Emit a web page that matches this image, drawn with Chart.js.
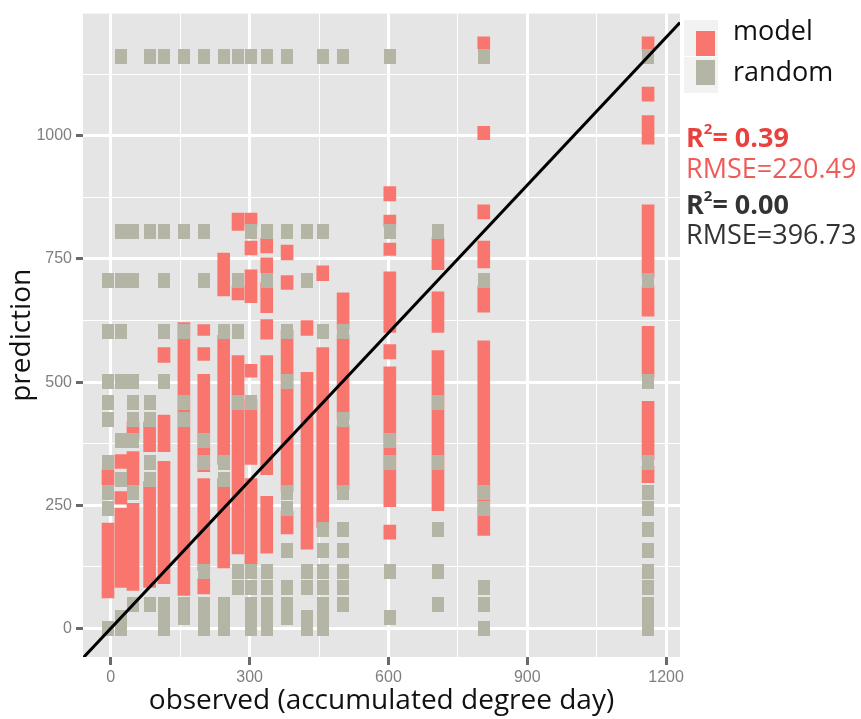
<!DOCTYPE html>
<html>
<head>
<meta charset="utf-8">
<script src="https://cdn.jsdelivr.net/npm/chart.js@4/dist/chart.umd.min.js"></script>
<style>
body { margin: 0; background: #fff; font-family: 'Open Sans', sans-serif; }
#wrap { position: relative; width: 861px; height: 719px; }
#chart { position: absolute; left: 0; top: 0; }
.key { position: absolute; left: 684px; width: 34px; height: 36px; background: #f2f2f2; }
.swatch { position: absolute; left: 12px; top: 11px; width: 19px; height: 25px; }
.lab { position: absolute; left: 733px; font-size: 27px; line-height: 27px; color: #111; }
.stat { position: absolute; left: 686px; font-size: 27px; line-height: 27px; white-space: nowrap; }
.stat sup { font-size: 15px; position: relative; top: -3px; }
</style>
</head>
<body>
<div id="wrap">
  <canvas id="chart" width="861" height="719"></canvas>
  <div class="key" style="top:20px"><div class="swatch" style="background:#F8766D"></div></div>
  <div class="key" style="top:57px"><div class="swatch" style="top:3px;background:#B5B5A6"></div></div>
  <div class="lab" style="top:16px">model</div>
  <div class="lab" style="top:57px">random</div>
  <div class="stat" style="top:118px;color:#E8423F;font-weight:bold">R<sup>2</sup>= 0.39</div>
  <div class="stat" style="top:154px;color:#F05A57">RMSE=220.49</div>
  <div class="stat" style="top:185px;color:#333;font-weight:bold">R<sup>2</sup>= 0.00</div>
  <div class="stat" style="top:220px;color:#333">RMSE=396.73</div>
</div>
<script>
// observed values (one column of points each)
const columnX = [-6, 22, 48, 84, 115, 158, 201, 244, 275, 303, 337, 381, 424, 458, 502, 603, 707, 806, 1161]

// model predictions: dense runs of points per column, read as [low, high]
const modelRanges = [
	[[62, 214], [292, 322]],
	[[83, 244], [252, 278], [325, 353]],
	[[77, 254], [292, 359], [385, 419]],
	[[83, 298], [359, 419]],
	[[91, 339], [359, 433], [540, 570]],
	[[67, 621]],
	[[70, 101], [117, 304], [318, 516], [544, 570], [595, 617]],
	[[123, 304], [333, 595], [675, 762]],
	[[151, 554], [667, 695], [808, 843]],
	[[131, 304], [333, 464], [510, 536], [661, 728], [758, 786], [817, 843]],
	[[153, 268], [312, 554], [587, 627], [641, 702], [722, 752], [762, 792]],
	[[192, 238], [278, 605], [688, 716], [748, 778]],
	[[161, 520], [595, 625]],
	[[204, 570], [706, 736]],
	[[282, 413], [425, 595], [607, 681]],
	[[181, 210], [247, 531], [547, 576], [601, 724], [757, 782], [815, 839], [868, 897]],
	[[239, 564], [601, 683], [728, 794]],
	[[189, 584], [642, 695], [732, 786], [831, 860], [992, 1019], [1177, 1201]],
	[[296, 329], [342, 461], [510, 613], [634, 695], [712, 860], [983, 1041], [1070, 1099], [1173, 1201]],
]

// random predictions per column
const randomValues = [
	[0, 244, 275, 337, 424, 458, 502, 603, 707],
	[0, 22, 303, 381, 502, 603, 707, 806, 1161],
	[48, 275, 381, 424, 458, 502, 707, 806],
	[48, 303, 337, 424, 458, 806, 1161],
	[0, 22, 48, 502, 603, 707, 806, 1161],
	[22, 48, 424, 458, 603, 806, 1161],
	[0, 22, 48, 115, 337, 381, 707, 806, 1161],
	[0, 22, 48, 303, 337, 603, 1161],
	[84, 115, 458, 603, 707, 1161],
	[0, 22, 48, 84, 115, 458, 806, 1161],
	[0, 22, 48, 84, 115, 707, 806, 1161],
	[22, 48, 84, 158, 244, 275, 502, 603, 806, 1161],
	[0, 22, 84, 115, 707, 806],
	[0, 22, 48, 84, 115, 158, 201, 603, 806, 1161],
	[48, 84, 115, 158, 201, 275, 424, 603, 1161],
	[22, 115, 337, 381, 806, 1161],
	[48, 115, 201, 337, 458, 806],
	[0, 48, 84, 244, 275, 707, 1161],
	[0, 22, 48, 84, 115, 158, 201, 244, 275, 337, 502, 707, 1161],
]

const identityLine = [-60, 1230]

const modelData = []
const randomData = []
columnX.forEach(function (x, i) {
	modelRanges[i].forEach(function (r) { modelData.push({ x: x, y: r }) })
	randomValues[i].forEach(function (v) { randomData.push({ x: x, y: v }) })
})

// jittered grey marker, a bit taller than wide
const dot = document.createElement('canvas')
dot.width = 12
dot.height = 15
const dctx = dot.getContext('2d')
dctx.fillStyle = '#B5B5A6'
dctx.fillRect(0, 0, 12, 15)

const panelBg = {
	id: 'panelBg',
	beforeDraw(chart) {
		const a = chart.chartArea
		const c = chart.ctx
		c.save()
		c.fillStyle = '#E5E5E5'
		c.fillRect(a.left, a.top, a.right - a.left, a.bottom - a.top)
		c.restore()
	},
}

function isMajor(ctx, step) {
	return ctx.tick && ctx.tick.value % step === 0
}

const ctx = document.getElementById('chart')
const myChart = new Chart(ctx, {
	type: 'scatter',
	data: {
		datasets: [
			{
				type: 'line',
				label: 'y = x',
				data: identityLine.map(function (v) { return { x: v, y: v } }),
				borderColor: '#000',
				borderWidth: 3,
				pointRadius: 0,
				order: 0,
			},
			{
				label: 'random',
				data: randomData,
				pointStyle: dot,
				order: 1,
			},
			{
				type: 'bar',
				label: 'model',
				data: modelData,
				backgroundColor: '#F8766D',
				barThickness: 12,
				borderWidth: 0,
				order: 2,
			},
		],
	},
	plugins: [panelBg],
	options: {
		responsive: false,
		animation: false,
		layout: { padding: { top: 8, right: 181, left: 0, bottom: 0 } },
		plugins: {
			legend: { display: false },
			tooltip: { enabled: false },
		},
		scales: {
			x: {
				type: 'linear',
				min: -60,
				max: 1230,
				offset: false,
				afterFit: function (s) { s.height = 62 },
				border: { display: false },
				grid: {
					offset: false,
					color: '#fff',
					lineWidth: function (c) { return isMajor(c, 300) ? 3 : 1 },
					tickColor: function (c) { return isMajor(c, 300) ? '#6a6a6a' : 'rgba(0,0,0,0)' },
					tickLength: 8,
					tickWidth: 3,
				},
				ticks: {
					stepSize: 150,
					includeBounds: false,
					autoSkip: false,
					maxRotation: 0,
					padding: 3,
					color: '#7f7f7f',
					font: { family: 'Liberation Sans', size: 16 },
					callback: function (v) { return v % 300 === 0 ? v : '' },
				},
				title: {
					display: true,
					text: 'observed (accumulated degree day)',
					color: '#111',
					font: { family: 'Open Sans', size: 28 },
					padding: { top: 0, bottom: 1 },
				},
			},
			y: {
				min: -58,
				max: 1248,
				afterFit: function (s) { s.width = 83 },
				border: { display: false },
				grid: {
					color: '#fff',
					lineWidth: function (c) { return isMajor(c, 250) ? 3 : 1 },
					tickColor: function (c) { return isMajor(c, 250) ? '#6a6a6a' : 'rgba(0,0,0,0)' },
					tickLength: 7,
					tickWidth: 3,
				},
				ticks: {
					stepSize: 125,
					includeBounds: false,
					autoSkip: false,
					padding: 4,
					color: '#7f7f7f',
					font: { family: 'Liberation Sans', size: 16 },
					callback: function (v) { return v % 250 === 0 ? v : '' },
				},
				title: {
					display: true,
					text: 'prediction',
					color: '#111',
					font: { family: 'Open Sans', size: 28 },
					padding: { top: 5, bottom: 0 },
				},
			},
		},
	},
})
</script>
</body>
</html>
